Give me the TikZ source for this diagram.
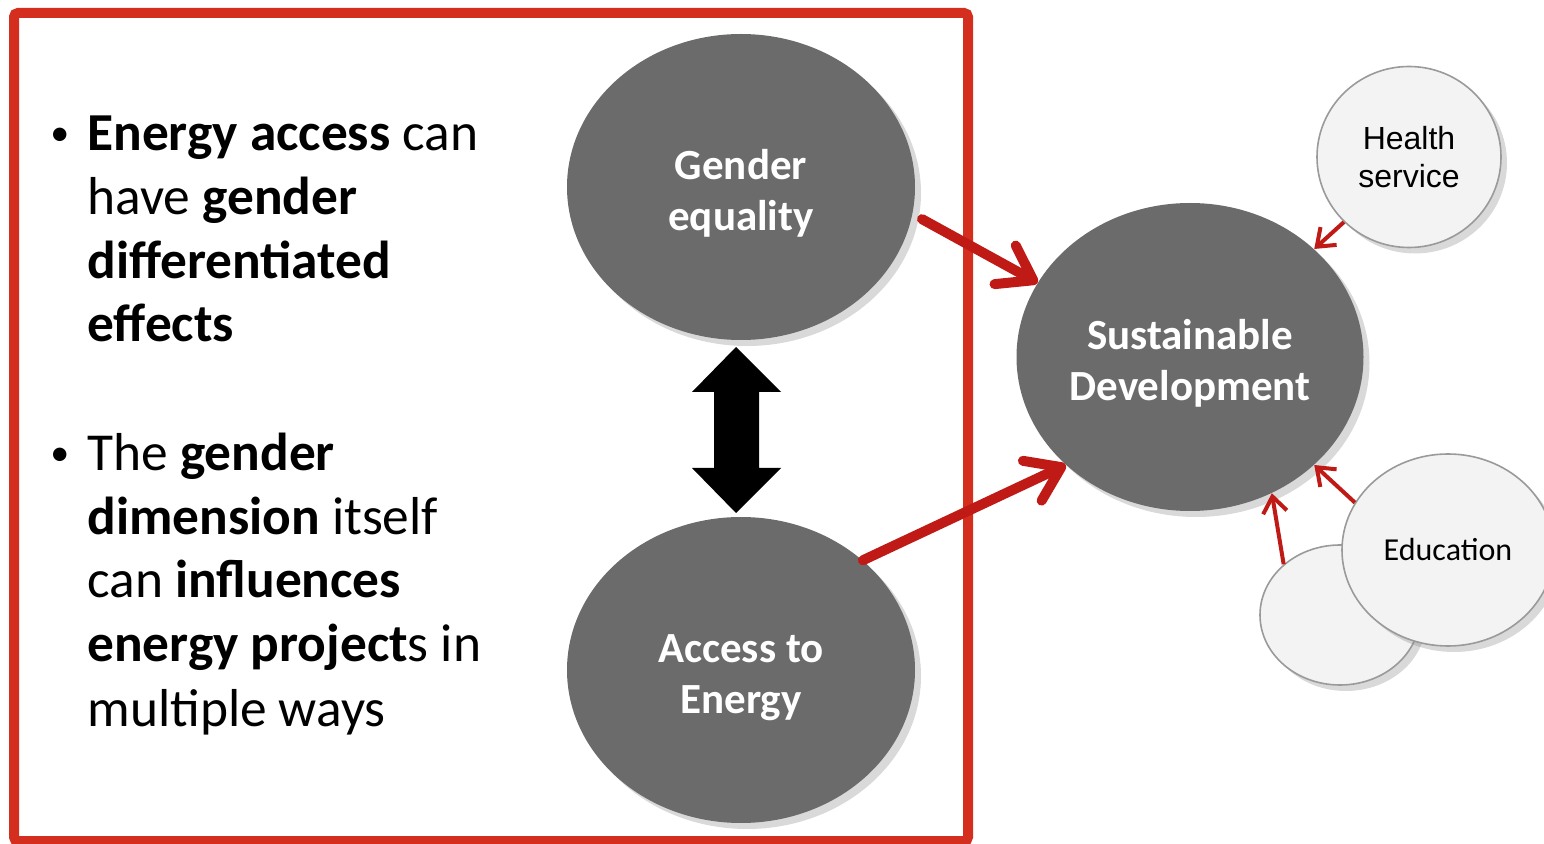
\documentclass[tikz,border=0pt]{standalone}
\usepackage{fontspec}
\setmainfont{Carlito}
\newfontfamily\arialf{Liberation Sans}
\usetikzlibrary{shapes.geometric,arrows.meta,shadows}
\definecolor{framered}{HTML}{D42E1E}
\definecolor{arrred}{HTML}{C01A17}
\definecolor{biggray}{HTML}{6B6B6B}
\definecolor{smallfill}{HTML}{F3F3F3}
\definecolor{smallline}{HTML}{9A9A9A}
\newcommand{\lowtext}[1]{\raisebox{-4pt}[\height][\depth]{\begin{tabular}{@{}c@{}}#1\end{tabular}}}
\begin{document}
\begin{tikzpicture}[x=0.5pt,y=-0.5pt,
  bigc/.style={ellipse, fill=biggray, inner sep=0pt, text=white, align=center,
    font=\fontsize{21.5}{25.5}\selectfont\bfseries,
    drop shadow={shadow xshift=3pt, shadow yshift=-3pt, opacity=0.3}},
  smallc/.style={ellipse, fill=smallfill, draw=smallline, line width=0.8pt, inner sep=0pt, align=center,
    drop shadow={shadow xshift=3pt, shadow yshift=-3pt, opacity=0.3}},
  txt/.style={anchor=base west, inner sep=0pt, font=\fontsize{26.7}{32}\selectfont},
  bul/.style={anchor=base west, inner sep=0pt, font=\fontsize{19}{32}\selectfont},
  bigarr/.style={draw=arrred, line width=5pt, line cap=round,
    -{Straight Barb[length=16pt, width=22pt, line cap=round, line join=round]}},
  smallarr/.style={draw=arrred, line width=2pt,
    -{Straight Barb[length=8pt, width=12pt]}}
]
\useasboundingbox (0,0) rectangle (1544,844);

% frame
\draw[framered, line width=5pt, rounded corners=2pt] (14,13) rectangle (968,841);

% bullet text
\node[bul] (b1) at (50,146) {•};
\node[txt] (l1) at (87,151) {\textbf{Energy access} can};
\node[txt] (l2) at (87,215) {have \textbf{gender}};
\node[txt] (l3) at (87,279) {\textbf{differentiated}};
\node[txt] (l4) at (87,342) {\textbf{effects}};
\node[bul] (b2) at (50,466) {•};
\node[txt] (l5) at (87,471) {The \textbf{gender}};
\node[txt] (l6) at (87,535) {\textbf{dimension} itself};
\node[txt] (l7) at (87,598) {can \textbf{influences}};
\node[txt] (l8) at (87,662) {\textbf{energy project}s in};
\node[txt] (l9) at (87,726) {multiple ways};

% big ellipses
\node[bigc, minimum width=174pt, minimum height=153pt] (gender) at (741,187) {\lowtext{Gender\\[0pt]equality}};
\node[bigc, minimum width=174pt, minimum height=153pt] (access) at (741,670) {\lowtext{Access to\\[0pt]Energy}};
\node[bigc, minimum width=173.5pt, minimum height=154pt] (sd) at (1190,357) {\lowtext{Sustainable\\[0pt]Development}};

% small circles
\node[smallc, minimum width=92pt, minimum height=90.5pt, font=\arialf\fontsize{16}{19}\selectfont] (health) at (1409,157) {Health\\service};
\node[smallc, minimum width=80pt, minimum height=70pt] (other) at (1340,615) {};
\node[smallc, minimum width=106pt, minimum height=96pt, font=\fontsize{16}{18}\selectfont] (edu) at (1448,550) {Education};

% double arrow
\fill[black] (736,347) -- (781,392) -- (759,392) -- (759,468) -- (781,468) -- (736,513)
  -- (692,468) -- (714,468) -- (714,392) -- (692,392) -- cycle;

% red arrows
\draw[bigarr] ([shift={(5pt,-1pt)}]gender.-10) -- (sd.154);
\draw[bigarr] (access.42) -- (sd.221);
\draw[smallarr] (health.225) -- (sd.41);
\draw[smallarr] (edu.153) -- (sd.-41);
\draw[smallarr] (other.138) -- (sd.-59);
\end{tikzpicture}
\end{document}
